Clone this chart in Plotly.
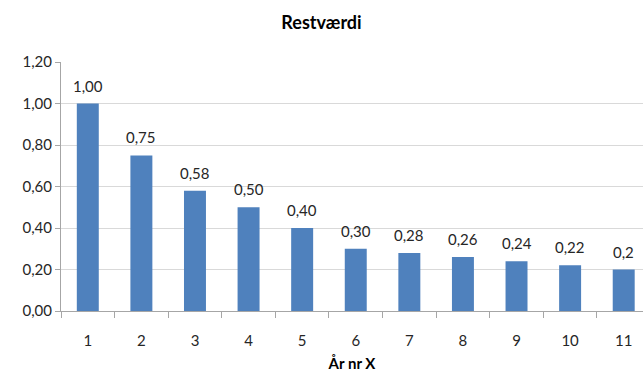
import plotly.graph_objects as go

# Restværdi pr. år
years = ["1", "2", "3", "4", "5", "6", "7", "8", "9", "10", "11"]
values = [1.00, 0.75, 0.58, 0.50, 0.40, 0.30, 0.28, 0.26, 0.24, 0.22, 0.2]
value_labels = ["1,00", "0,75", "0,58", "0,50", "0,40", "0,30", "0,28", "0,26", "0,24", "0,22", "0,2"]

FONT = "Lato, 'Open Sans', sans-serif"
TEXT = "#262626"
AXIS = "#A6A6A6"
GRID = "#D9D9D9"

fig = go.Figure(
    go.Bar(
        x=years,
        y=values,
        cliponaxis=False,
        marker=dict(color="#4F81BD", line=dict(width=0)),
        width=0.41,
        hoverinfo="x+y",
    )
)

# value labels above each bar (category axis positions are the category indices)
for idx, (val, lab) in enumerate(zip(values, value_labels)):
    fig.add_annotation(
        x=idx, y=val, text=lab, showarrow=False,
        xanchor="center", yanchor="bottom", yshift=7,
        font=dict(family=FONT, size=15, color=TEXT),
    )

fig.update_layout(
    width=643,
    height=372,
    margin=dict(l=61, r=0, t=62, b=61),
    paper_bgcolor="white",
    plot_bgcolor="white",
    separators=",.",
    showlegend=False,
    title=dict(
        text="<b>Restværdi</b>",
        x=0.5,
        xanchor="center",
        y=0.94,
        yanchor="middle",
        font=dict(family=FONT, size=18, color="black"),
    ),
    font=dict(family=FONT, size=15, color=TEXT),
)

fig.update_xaxes(
    type="category",
    range=[-0.5, 10.36],
    tickson="boundaries",
    ticks="outside",
    ticklen=6,
    tickcolor=AXIS,
    ticklabelstandoff=16,
    showline=True,
    linecolor=AXIS,
    linewidth=1,
    showgrid=False,
    tickfont=dict(family=FONT, size=15, color=TEXT),
    title=dict(text="<b>År nr X</b>", font=dict(family=FONT, size=15, color="black"), standoff=12),
)

fig.update_yaxes(
    range=[0, 1.2],
    dtick=0.2,
    tickformat=".2f",
    ticks="outside",
    ticklen=5,
    tickcolor=AXIS,
    showline=True,
    linecolor=AXIS,
    linewidth=1,
    showgrid=True,
    gridcolor=GRID,
    gridwidth=1,
    zeroline=False,
    tickfont=dict(family=FONT, size=15, color=TEXT),
)

fig.write_html("out.html")
